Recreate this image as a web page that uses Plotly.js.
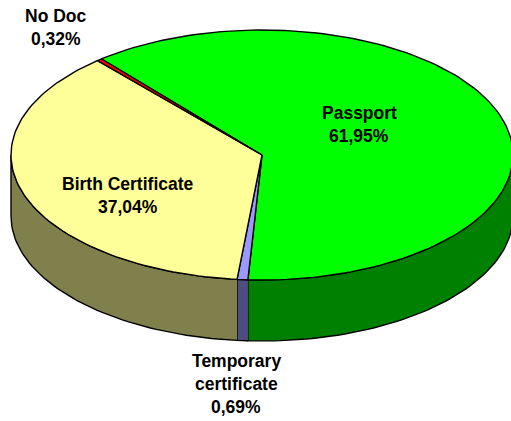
<!DOCTYPE html>
<html>
<head>
<meta charset="utf-8">
<script src="https://cdn.plot.ly/plotly-3.0.1.min.js"></script>
<style>html,body{margin:0;padding:0;background:#fff}#chart{width:511px;height:421px}</style>
</head>
<body>
<div id="chart"></div>
<script>
var categories = ['Passport', 'Temporary certificate', 'Birth Certificate', 'No Doc'];
var shares = [61.95, 0.69, 37.04, 0.32];
var topColors = ['#00FF00', '#9999FF', '#FFFF99', '#FF0000'];
var wallColors = ['#008000', '#4D4D80', '#80804D', '#800000'];
var labelLines = [['Passport'], ['Temporary', 'certificate'], ['Birth Certificate'], ['No Doc']];
var labelAnchors = [[359, 113], [236, 361], [128, 184], [55.5, 16]];

var cx = 262, cy = 155, rx = 251, ry = 125, depth = 61, startDeg = -39.8, lineGap = 23;

function pt(deg, drop) {
  var a = deg * Math.PI / 180;
  return [cx + rx * Math.sin(a), cy - ry * Math.cos(a) + drop];
}
function arc(a, b, drop) {
  var out = [], n = Math.max(2, Math.ceil(Math.abs(b - a) / 1.5));
  for (var i = 0; i <= n; i++) out.push(pt(a + (b - a) * i / n, drop));
  return out;
}
function poly(points, fill) {
  return {
    type: 'scatter', mode: 'lines', fill: 'toself', fillcolor: fill,
    x: points.map(function (p) { return p[0]; }),
    y: points.map(function (p) { return p[1]; }),
    line: { color: '#000', width: 1.4 }, hoverinfo: 'skip', showlegend: false
  };
}

var traces = [], tops = [], annotations = [], angle = startDeg;
shares.forEach(function (s, i) {
  var a = angle, b = angle + s * 3.6;
  angle = b;
  var lo = Math.max(a, 90), hi = Math.min(b, 270);
  if (hi > lo) traces.push(poly(arc(lo, hi, 0).concat(arc(hi, lo, depth)), wallColors[i]));
  tops.push(poly([[cx, cy]].concat(arc(a, b, 0), [[cx, cy]]), topColors[i]));
  var lines = labelLines[i].concat([s.toFixed(2).replace('.', ',') + '%']);
  lines.forEach(function (t, k) {
    annotations.push({
      x: labelAnchors[i][0], y: labelAnchors[i][1] + k * lineGap,
      xref: 'x', yref: 'y', text: '<b>' + t + '</b>', showarrow: false,
      xanchor: 'center', yanchor: 'middle',
      font: { family: 'Liberation Sans, Arial, sans-serif', size: 17.5, color: '#000' }
    });
  });
});

Plotly.newPlot('chart', traces.concat(tops), {
  width: 511, height: 421,
  margin: { l: 0, r: 0, t: 0, b: 0 },
  paper_bgcolor: '#fff', plot_bgcolor: '#fff',
  xaxis: { range: [0, 511], visible: false, fixedrange: true },
  yaxis: { range: [421, 0], visible: false, fixedrange: true },
  annotations: annotations, showlegend: false
}, { displayModeBar: false, staticPlot: true });
</script>
</body>
</html>
